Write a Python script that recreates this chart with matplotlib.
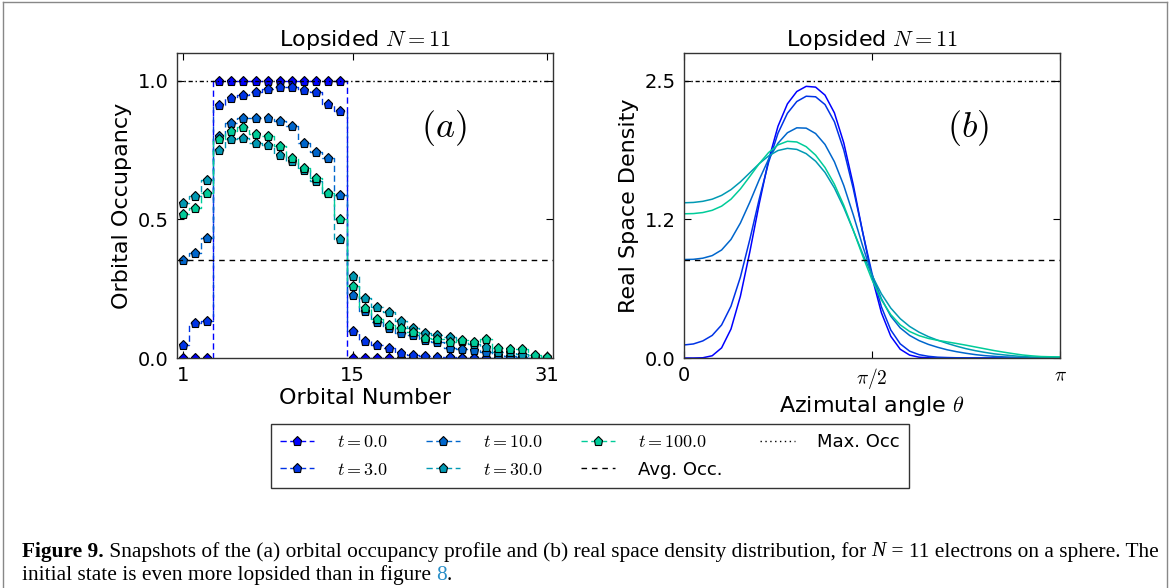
import numpy as np
import matplotlib
matplotlib.use('Agg')
import matplotlib.pyplot as plt
from matplotlib.ticker import FormatStrFormatter
from matplotlib.lines import Line2D

plt.rcParams['font.family'] = ['DejaVu Sans']
plt.rcParams['mathtext.fontset'] = 'cm'

# orbital occupancy snapshots
orbitals = np.arange(1, 32)
time_labels = ['0.0', '3.0', '10.0', '30.0', '100.0']
occ_t0 = [0, 0, 0, 1, 1, 1, 1, 1, 1, 1, 1, 1, 1, 1, 0, 0,
          0, 0, 0, 0, 0, 0, 0, 0, 0, 0, 0, 0, 0, 0, 0]
occ_t3 = [0.047, 0.128, 0.135, 0.913, 0.938, 0.949, 0.959, 0.971, 0.979, 0.979, 0.967,
          0.960, 0.917, 0.892, 0.098, 0.063, 0.047, 0.037, 0.019, 0.011, 0.007,
          0.003, 0.002, 0.001, 0, 0, 0, 0, 0, 0, 0]
occ_t10 = [0.355, 0.377, 0.434, 0.800, 0.848, 0.867, 0.865, 0.865, 0.855, 0.838, 0.775,
           0.744, 0.720, 0.587, 0.226, 0.168, 0.130, 0.110, 0.089, 0.083, 0.065,
           0.059, 0.035, 0.033, 0.028, 0.020, 0.011, 0.007, 0.005, 0.002, 0.0]
occ_t30 = [0.560, 0.584, 0.642, 0.750, 0.790, 0.795, 0.775, 0.768, 0.733, 0.711, 0.679,
           0.639, 0.594, 0.428, 0.297, 0.215, 0.184, 0.167, 0.132, 0.110, 0.089,
           0.083, 0.074, 0.060, 0.050, 0.041, 0.023, 0.020, 0.015, 0.005, 0.002]
occ_t100 = [0.520, 0.542, 0.594, 0.790, 0.820, 0.832, 0.808, 0.800, 0.763, 0.720, 0.687,
            0.649, 0.594, 0.500, 0.260, 0.180, 0.140, 0.120, 0.108, 0.094, 0.071,
            0.068, 0.059, 0.065, 0.059, 0.068, 0.035, 0.033, 0.033, 0.010, 0.004]
occupancies = [occ_t0, occ_t3, occ_t10, occ_t30, occ_t100]

# real space density, panel (b), sampled every pi/40 from 0 to pi
theta = np.linspace(0, np.pi, 41)
dens_t0 = [0.000, 0.000, 0.002, 0.020, 0.090, 0.258, 0.550, 0.943, 1.372, 1.762, 2.062,
           2.261, 2.371, 2.417, 2.410, 2.339, 2.181, 1.913, 1.544, 1.122, 0.721,
           0.403, 0.193, 0.078, 0.026, 0.007, 0.002, 0.000, 0.000, 0.000, 0.000,
           0.000, 0.000, 0.000, 0.000, 0.000, 0.000, 0.000, 0.000, 0.000, 0.000]
dens_t3 = [0.116, 0.125, 0.152, 0.201, 0.294, 0.461, 0.720, 1.054, 1.413, 1.741, 2.000,
           2.177, 2.282, 2.329, 2.324, 2.255, 2.102, 1.850, 1.509, 1.122, 0.753,
           0.455, 0.249, 0.126, 0.061, 0.030, 0.015, 0.007, 0.004, 0.002, 0.001,
           0.000, 0.000, 0.000, 0.000, 0.000, 0.000, 0.000, 0.000, 0.000, 0.000]
dens_t10 = [0.876, 0.878, 0.888, 0.911, 0.961, 1.055, 1.201, 1.386, 1.586, 1.769, 1.911,
            2.004, 2.048, 2.045, 1.997, 1.900, 1.746, 1.534, 1.276, 0.999, 0.740,
            0.528, 0.372, 0.268, 0.201, 0.155, 0.121, 0.095, 0.073, 0.056, 0.042,
            0.030, 0.021, 0.015, 0.010, 0.007, 0.004, 0.002, 0.001, 0.000, 0.000]
dens_t30 = [1.381, 1.384, 1.394, 1.413, 1.447, 1.498, 1.567, 1.648, 1.729, 1.798, 1.846,
            1.865, 1.856, 1.818, 1.751, 1.651, 1.513, 1.338, 1.137, 0.929, 0.735,
            0.571, 0.444, 0.350, 0.281, 0.230, 0.190, 0.158, 0.130, 0.105, 0.083,
            0.065, 0.050, 0.037, 0.028, 0.020, 0.013, 0.009, 0.007, 0.005, 0.005]
dens_t100 = [1.283, 1.285, 1.294, 1.314, 1.351, 1.413, 1.504, 1.615, 1.729, 1.828, 1.896,
             1.928, 1.922, 1.880, 1.805, 1.695, 1.546, 1.358, 1.139, 0.910, 0.696,
             0.518, 0.386, 0.295, 0.236, 0.199, 0.174, 0.157, 0.143, 0.129, 0.114,
             0.098, 0.082, 0.066, 0.052, 0.039, 0.027, 0.019, 0.013, 0.011, 0.010]
densities = [dens_t0, dens_t3, dens_t10, dens_t30, dens_t100]

max_occ = 1.0
avg_occ = 11 / 31
max_density = 31 / (4 * np.pi)
avg_density = 11 / (4 * np.pi)

colors = plt.cm.winter(np.linspace(0, 0.8, 5))

fig = plt.figure(figsize=(11.71, 5.88), dpi=100)
ax1 = fig.add_axes([176.7 / 1171, 230 / 588, 376 / 1171, 305 / 588])
ax2 = fig.add_axes([684 / 1171, 230 / 588, 376 / 1171, 305 / 588])

handles = []
for occ, c in zip(occupancies, colors):
    ln, = ax1.plot(orbitals, occ, ls='--', dashes=(4.5, 2.5), drawstyle='steps-mid', color=c, lw=1,
                   marker='p', ms=6.5, mfc=c, mec='k', mew=0.8)
    handles.append(ln)
ax1.axhline(max_occ, color='k', lw=1, ls=(0, (3, 2, 1, 2)))
ax1.axhline(avg_occ, color='k', lw=1, ls=(0, (4, 3.5)))
ax1.set_xlim(0.5, 31.5)
ax1.set_ylim(0, 1.1 * max_occ)
ax1.set_xticks([1, 15, 31])
ax1.set_yticks([0, 0.5, 1.0])
ax1.yaxis.set_major_formatter(FormatStrFormatter('%.1f'))
ax1.set_xlabel('Orbital Number', fontsize=16, labelpad=2)
ax1.set_ylabel('Orbital Occupancy', fontsize=16, labelpad=4)
ax1.set_title('Lopsided $N=11$', fontsize=16, pad=5)
ax1.text(0.71, 0.755, '$(a)$', transform=ax1.transAxes, fontsize=26, ha='center', va='center')

for rho, c in zip(densities, colors):
    ax2.plot(theta, rho, color=c, lw=1.1)
ax2.axhline(max_density, color='k', lw=1, ls=(0, (3, 2, 1, 2)))
ax2.axhline(avg_density, color='k', lw=1, ls=(0, (4, 3.5)))
ax2.set_xlim(0, np.pi)
ax2.set_ylim(0, 1.1 * max_density)
ax2.set_xticks([0, np.pi / 2, np.pi])
ax2.set_xticklabels(['0', r'$\pi/2$', r'$\pi$'])
ax2.set_yticks([0, max_density / 2, max_density])
ax2.yaxis.set_major_formatter(FormatStrFormatter('%.1f'))
ax2.set_xlabel(r'Azimutal angle $\theta$', fontsize=16, labelpad=2)
ax2.set_ylabel('Real Space Density', fontsize=16, labelpad=4)
ax2.set_title('Lopsided $N=11$', fontsize=16, pad=5)
ax2.text(0.755, 0.755, '$(b)$', transform=ax2.transAxes, fontsize=26, ha='center', va='center')

for ax in (ax1, ax2):
    ax.tick_params(direction='in', top=True, right=True, labelsize=14, length=5, pad=6)
    for s in ax.spines.values():
        s.set_linewidth(1)
        s.set_color('#333333')

handles.append(Line2D([], [], color='k', lw=1, ls=(0, (4, 3.5))))
handles.append(Line2D([], [], color='k', lw=1, ls=(0, (1, 2.5))))
labels = ['$t=' + t + '$' for t in time_labels] + ['Avg. Occ.', 'Max. Occ']
fig.legend(handles, labels, loc='center', bbox_to_anchor=(590 / 1171, 1 - 456 / 588), ncol=4,
           numpoints=1, fancybox=False, edgecolor='#333333', fontsize=13, handlelength=1.9,
           handletextpad=1.25, columnspacing=2.1, labelspacing=0.5, framealpha=1, borderpad=0.5,
           borderaxespad=0)

# page frame and caption
fig.add_artist(Line2D([3 / 1171, 3 / 1171], [0, 1 - 2 / 588], color='#888888', lw=1, transform=fig.transFigure))
fig.add_artist(Line2D([1167 / 1171, 1167 / 1171], [0, 1 - 2 / 588], color='#888888', lw=1, transform=fig.transFigure))
fig.add_artist(Line2D([3 / 1171, 1167 / 1171], [1 - 2 / 588, 1 - 2 / 588], color='#888888', lw=1, transform=fig.transFigure))

renderer = fig.canvas.get_renderer()


def put_line(pieces, x, y):
    for s, kw in pieces:
        t = fig.text(x / 1171, 1 - y / 588, s, va='center', fontsize=15.4, family='Liberation Serif', **kw)
        bb = t.get_window_extent(renderer)
        x += bb.width


put_line([('Figure 9.', {'weight': 'bold'}),
          (' Snapshots of the (a) orbital occupancy profile and (b) real space density distribution, for ', {}),
          ('N', {'style': 'italic'}),
          (' = 11 electrons on a sphere. The', {})], 22, 552)
put_line([('initial state is even more lopsided than in figure ', {}),
          ('8', {'color': '#2a8fc8'}),
          ('.', {})], 22, 575)

fig.savefig('out.png', dpi=100)
